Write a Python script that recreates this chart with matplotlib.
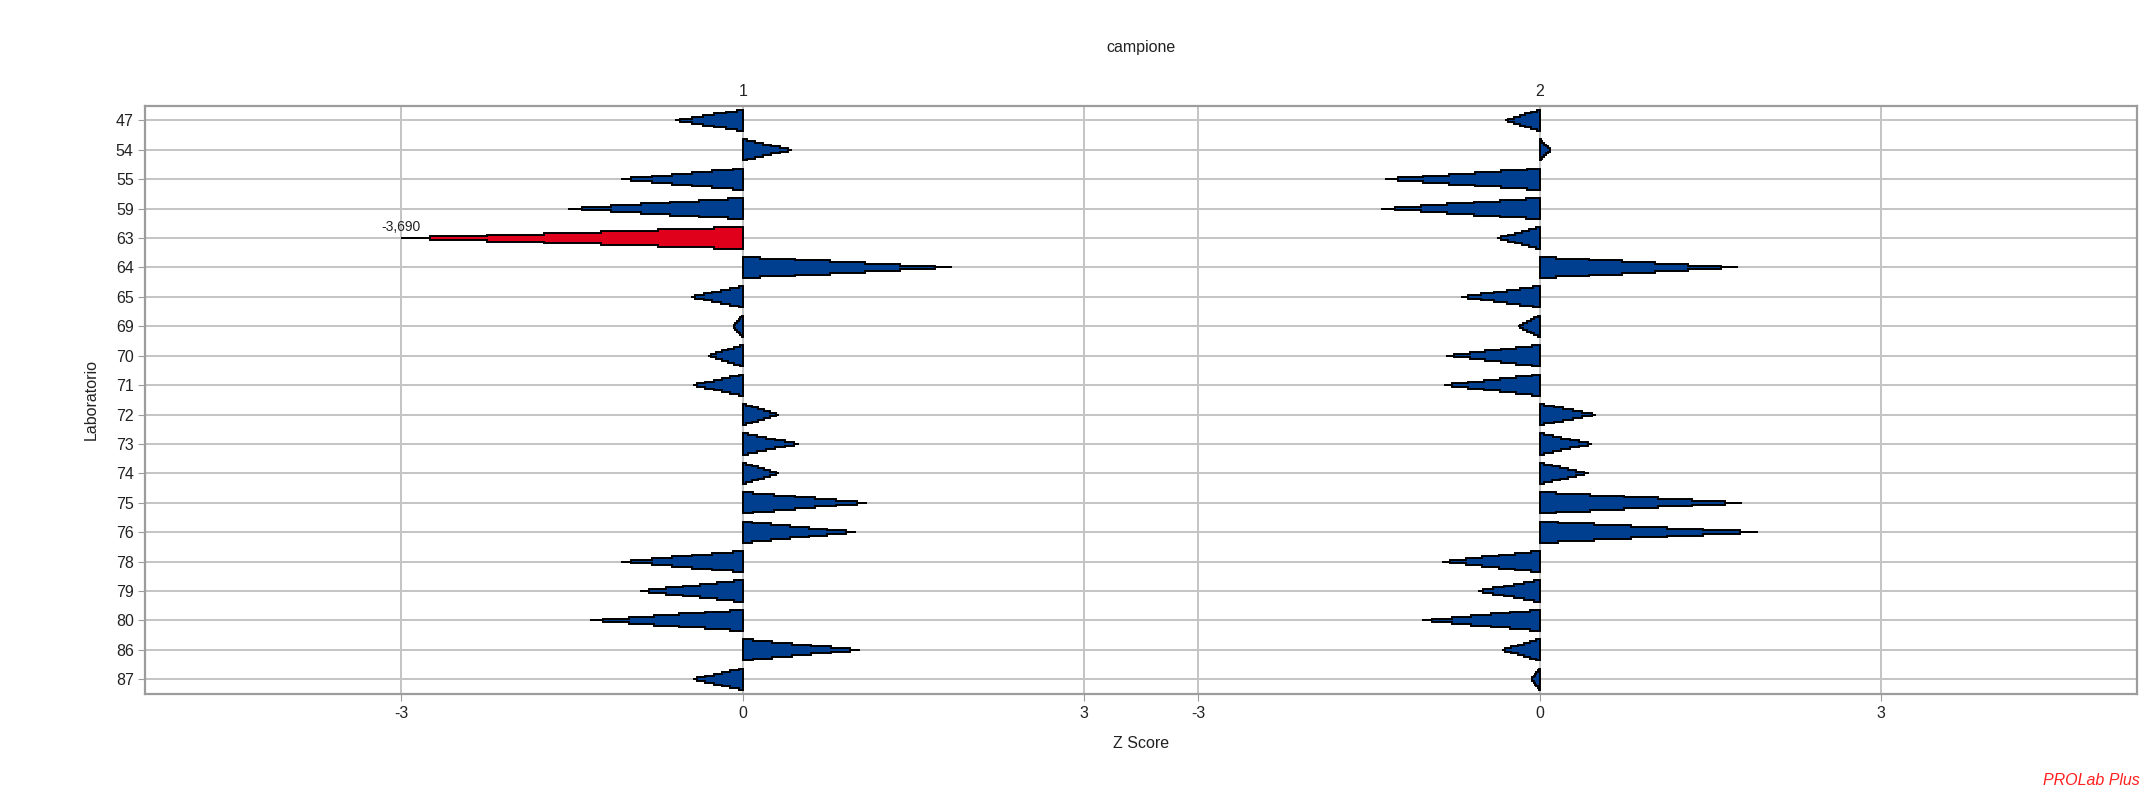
import matplotlib
matplotlib.use("Agg")
import matplotlib.pyplot as plt
from matplotlib.patches import Polygon
import numpy as np

plt.rcParams["font.family"] = ["Liberation Sans", "DejaVu Sans"]

labs = ["47", "54", "55", "59", "63", "64", "65", "69", "70", "71",
        "72", "73", "74", "75", "76", "78", "79", "80", "86", "87"]
z_camp1 = [-0.60, 0.43, -1.07, -1.54, -3.69, 1.84, -0.46, -0.09, -0.31, -0.44,
           0.32, 0.49, 0.32, 1.09, 0.99, -1.07, -0.90, -1.34, 1.03, -0.44]
z_camp2 = [-0.30, 0.10, -1.36, -1.39, -0.37, 1.74, -0.69, -0.19, -0.82, -0.84,
           0.50, 0.46, 0.43, 1.78, 1.92, -0.86, -0.54, -1.03, -0.33, -0.07]
campioni = ["1", "2"]
offsets = [0, 7]
tick_vals = [-3, 0, 3]

BLUE = "#003F8F"
RED = "#E0001B"
GRID = "#C4C4C4"
SPINE = "#9C9C9C"


def stepped_triangle(x0, y, v, hh=0.36, steps=6):
    # bars drawn as a 6-step pyramid, clipped at |z| = 3
    length = min(abs(v), 3.0) * np.sign(v)
    b = np.concatenate([[0], (np.arange(steps) + 0.5) / steps, [1]]) * length
    heights = hh * (1 - np.arange(steps + 1) / steps)
    top, bot = [], []
    for k in range(steps + 1):
        top += [(x0 + b[k], y - heights[k]), (x0 + b[k + 1], y - heights[k])]
        bot += [(x0 + b[k], y + heights[k]), (x0 + b[k + 1], y + heights[k])]
    return top + bot[::-1]


fig = plt.figure(figsize=(21.45, 8.02), dpi=100)
ax = fig.add_axes([0.0678, 0.1347, 0.9285, 0.7335])
ax.set_xlim(-5.25, 12.25)
ax.set_ylim(len(labs) - 0.5, -0.5)

for off, zs in zip(offsets, [z_camp1, z_camp2]):
    for i, v in enumerate(zs):
        col = RED if abs(v) > 3 else BLUE
        ax.add_patch(Polygon(stepped_triangle(off, i, v), closed=True,
                             facecolor=col, edgecolor="black", lw=1.4, zorder=3))
        if abs(v) > 3:
            tip = off + 3.0 * np.sign(v)
            ax.text(tip, i - 0.38, f"{v:.3f}".replace(".", ","), ha="center",
                    va="center", fontsize=10, color="#222222", zorder=4)

xt = [off + t for off in offsets for t in tick_vals]
ax.set_xticks(xt)
ax.set_xticklabels([str(t) for off in offsets for t in tick_vals])
ax.set_yticks(range(len(labs)))
ax.set_yticklabels(labs)
ax.grid(True, color=GRID, lw=1.4, zorder=0)
ax.set_axisbelow(True)
ax.tick_params(axis="both", direction="out", length=5, color=SPINE,
               labelsize=11.5, labelcolor="#222222")
for s in ax.spines.values():
    s.set_color(SPINE)
    s.set_linewidth(1.6)

ax.set_xlabel("Z Score", fontsize=11.5, labelpad=11, color="#222222")
ax.set_ylabel("Laboratorio", fontsize=11.5, labelpad=12, color="#222222")

top = ax.twiny()
top.set_xlim(ax.get_xlim())
top.set_xticks(offsets)
top.set_xticklabels(campioni)
top.tick_params(axis="x", length=0, pad=5, labelsize=11.5, labelcolor="#222222")
for s in top.spines.values():
    s.set_visible(False)
top.set_xlabel("campione", fontsize=11.5, labelpad=23, color="#222222")

fig.text(0.9975, 0.017, "PROLab Plus", color="#FF2020", style="italic",
         fontsize=11.5, ha="right", va="bottom")

fig.savefig("out.png", dpi=100, facecolor="white")
